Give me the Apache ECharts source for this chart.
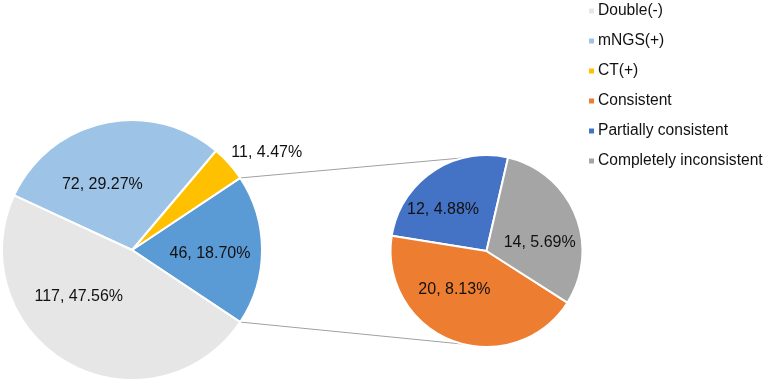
<!DOCTYPE html>
<html>
<head>
<meta charset="utf-8">
<script src="https://cdn.jsdelivr.net/npm/echarts@6/dist/echarts.min.js"></script>
<style>
  html, body { margin: 0; padding: 0; background: #fff; }
  #chart { width: 766px; height: 382px; }
</style>
</head>
<body>
<div id="chart"></div>
<script>
// Pie of pie: main breakdown + split of the 46 cases
const mainNames = ['Double(-)', 'mNGS(+)', 'CT(+)'];
const mainValues = [117, 72, 11];
const subNames = ['Consistent', 'Partially consistent', 'Completely inconsistent'];
const subValues = [20, 12, 14];

const colors = {
    'Double(-)': '#E7E6E6',
    'mNGS(+)': '#9DC3E6',
    'CT(+)': '#FFC000',
    'Other': '#5B9BD5',
    'Consistent': '#ED7D31',
    'Partially consistent': '#4472C4',
    'Completely inconsistent': '#A5A5A5'
};

const otherValue = subValues.reduce((a, b) => a + b, 0);
const total = mainValues.reduce((a, b) => a + b, 0) + otherValue;

// geometry
const mainCenter = [132, 250], mainR = 130;
const subCenter = [486.5, 251], subR = 96;
const halfOther = otherValue / total * 180;
const subStart = 77;
const joinAngle = 104;

// label nudges (Excel "best fit" placement)
const mainShift = { 'Other': [10, 4], 'CT(+)': [84, -52], 'mNGS(+)': [-15, 1], 'Double(-)': [-20, -13] };
const subShift = { 'Partially consistent': [-15, 1], 'Consistent': [-14, -9], 'Completely inconsistent': [6, 11] };

// main pie order: counterclockwise from the "other" slice
const mainData = [{ name: 'Other', value: otherValue }]
    .concat([2, 1, 0].map(i => ({ name: mainNames[i], value: mainValues[i] })))
    .map(d => Object.assign(d, { itemStyle: { color: colors[d.name] } }));

const subData = [1, 0, 2].map(i => ({
    name: subNames[i], value: subValues[i], itemStyle: { color: colors[subNames[i]] }
}));

const labelFmt = p => p.value + ', ' + (p.value / total * 100).toFixed(2) + '%';
const rad = a => a * Math.PI / 180;
const pt = (c, r, a) => [c[0] + r * Math.cos(rad(a)), c[1] - r * Math.sin(rad(a))];

const p1 = pt(mainCenter, mainR, halfOther), p2 = pt(subCenter, subR, joinAngle);
const p3 = pt(mainCenter, mainR, -halfOther), p4 = pt(subCenter, subR, -joinAngle);

const baseSeries = {
    type: 'pie',
    clockwise: false,
    avoidLabelOverlap: false,
    silent: true,
    itemStyle: { borderColor: '#fff', borderWidth: 2 },
    label: {
        show: true,
        position: 'inside',
        formatter: labelFmt,
        color: '#111',
        fontSize: 16,
        fontFamily: 'Liberation Sans, Arial, sans-serif'
    },
    labelLine: { show: false },
    emphasis: { disabled: true }
};

const chart = echarts.init(document.getElementById('chart'));
chart.setOption({
    animation: false,
    legend: {
        orient: 'vertical',
        left: 582,
        top: -2,
        itemWidth: 7,
        itemHeight: 7,
        itemGap: 14,
        icon: 'rect',
        selectedMode: false,
        data: mainNames.concat(subNames),
        textStyle: {
            color: '#111',
            fontSize: 15.6,
            lineHeight: 16,
            padding: [0, 0, 0, -2],
            fontFamily: 'Liberation Sans, Arial, sans-serif'
        }
    },
    graphic: [
        { type: 'line', z: -1, shape: { x1: p1[0], y1: p1[1], x2: p2[0], y2: p2[1] }, style: { stroke: '#A0A0A0', lineWidth: 1 } },
        { type: 'line', z: -1, shape: { x1: p3[0], y1: p3[1], x2: p4[0], y2: p4[1] }, style: { stroke: '#A0A0A0', lineWidth: 1 } }
    ],
    series: [
        Object.assign({}, baseSeries, {
            name: 'main',
            center: mainCenter,
            radius: mainR,
            startAngle: -halfOther,
            data: mainData,
            labelLayout: p => {
                const s = mainShift[mainData[p.dataIndex].name];
                return { dx: s[0], dy: s[1] };
            }
        }),
        Object.assign({}, baseSeries, {
            name: 'sub',
            center: subCenter,
            radius: subR,
            startAngle: subStart,
            data: subData,
            labelLayout: p => {
                const s = subShift[subData[p.dataIndex].name];
                return { dx: s[0], dy: s[1] };
            }
        })
    ]
});
</script>
</body>
</html>
